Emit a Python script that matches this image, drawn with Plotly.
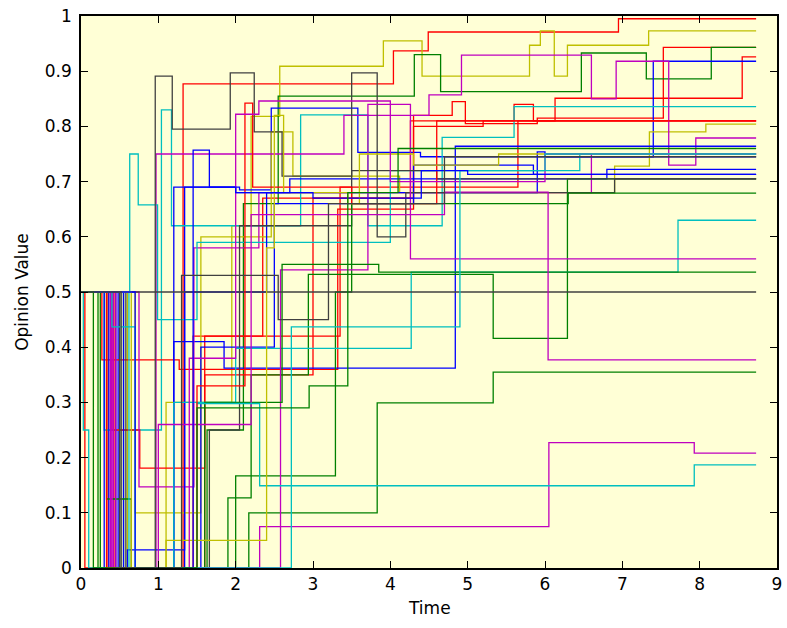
import plotly.graph_objects as go

# Opinion trajectories: each agent has switch times and the opinion held from that time on.
T_END = 8.73

a01_t = [0, 0.05, 1.32, 4.04, 4.49, 6.95]
a01_v = [0.5, 0.0, 0.877, 0.937, 0.971, 0.995]
a02_t = [0, 0.60, 1.10, 1.95, 2.20, 2.57, 3.91, 4.41, 5.80, 5.94, 6.12, 6.29, 7.34]
a02_v = [0.5, 0.0, 0.30, 0.62, 0.818, 0.909, 0.955, 0.891, 0.947, 0.973, 0.891, 0.947, 0.973]
a03_t = [0, 0.35, 1.45, 2.35, 4.30, 4.80, 4.97, 5.90, 7.53]
a03_v = [0.5, 0.0, 0.42, 0.67, 0.82, 0.845, 0.805, 0.815, 0.943]
a04_t = [0, 0.55, 1.63, 2.10, 2.55, 4.31, 4.65, 6.47, 7.31, 8.15]
a04_v = [0.5, 0.0, 0.25, 0.66, 0.855, 0.93, 0.863, 0.933, 0.886, 0.943]
a05_t = [0, 0.44, 1.60, 3.00, 4.26, 5.60, 5.85, 6.13, 8.55]
a05_v = [0.5, 0.0, 0.35, 0.67, 0.81, 0.84, 0.81, 0.851, 0.926]
a06_t = [0, 0.48, 1.34, 2.05, 2.46, 3.58, 4.39, 7.40]
a06_v = [0.5, 0.0, 0.69, 0.685, 0.833, 0.753, 0.745, 0.918]
a07_t = [0, 0.30, 1.04, 1.17, 2.84, 3.71, 4.67, 5.60]
a07_v = [0.5, 0.25, 0.83, 0.62, 0.821, 0.62, 0.78, 0.836]
a08_t = [0, 0.40, 0.76, 1.60, 3.35, 5.65]
a08_v = [0.5, 0.25, 0.181, 0.42, 0.69, 0.81]
a09_t = [0, 0.27, 1.27, 3.32, 4.30, 5.20]
a09_v = [0.5, 0.377, 0.36, 0.65, 0.80, 0.81]
a10_t = [0, 0.70, 1.55, 2.46, 2.74, 4.12, 6.90, 7.35, 8.08]
a10_v = [0.5, 0.1, 0.60, 0.79, 0.71, 0.68, 0.728, 0.79, 0.804]
a11_t = [0, 0.42, 0.97, 3.40, 4.50, 4.92, 6.60, 6.92, 7.60, 7.95]
a11_v = [0.5, 0.0, 0.75, 0.82, 0.857, 0.929, 0.85, 0.918, 0.73, 0.779]
a12_t = [0, 0.36, 1.20, 1.85, 4.84]
a12_v = [0.5, 0.0, 0.41, 0.362, 0.764]
a13_t = [0, 0.75, 1.46, 2.30, 4.20, 6.60]
a13_v = [0.5, 0.147, 0.58, 0.68, 0.68, 0.75]
a14_t = [0, 0.63, 0.74, 0.99, 1.50, 4.00, 6.45]
a14_v = [0.5, 0.75, 0.658, 0.45, 0.59, 0.72, 0.75]
a15_t = [0, 0.30, 0.60, 1.34, 2.40, 5.90, 6.00]
a15_v = [0.5, 0.0, 0.033, 0.50, 0.68, 0.754, 0.745]
a16_t = [0, 0.45, 1.20, 2.00, 2.70, 6.80]
a16_v = [0.5, 0.0, 0.69, 0.68, 0.705, 0.722]
a17_t = [0, 0.55, 1.55, 2.50, 4.30, 5.85]
a17_v = [0.5, 0.0, 0.40, 0.66, 0.73, 0.713]
a18_t = [0, 0.22, 1.90, 2.20, 2.94, 5.33, 6.29]
a18_v = [0.5, 0.0, 0.127, 0.35, 0.532, 0.416, 0.705]
a19_t = [0, 0.25, 2.17, 3.83, 5.33]
a19_v = [0.5, 0.0, 0.1, 0.299, 0.355]
a20_t = [0, 0.58, 1.66, 2.05, 3.50, 3.83, 4.20, 6.90]
a20_v = [0.5, 0.0, 0.25, 0.62, 0.897, 0.60, 0.68, 0.705]
a21_t = [0, 0.33, 0.65, 2.00, 3.29, 3.50, 6.30]
a21_v = [0.5, 0.125, 0.0, 0.167, 0.50, 0.66, 0.679]
a22_t = [0, 0.03, 0.10, 1.20, 2.00, 4.27, 7.72]
a22_v = [0.5, 0.25, 0.0, 0.30, 0.398, 0.536, 0.630]
a23_t = [0, 0.40, 2.58, 3.71, 4.26]
a23_v = [0.5, 0.0, 0.54, 0.84, 0.56]
a24_t = [0, 0.50, 1.60, 2.60, 3.85]
a24_v = [0.5, 0.0, 0.30, 0.55, 0.536]
a25_t = [0]
a25_v = [0.5]
a26_t = [0, 0.38, 1.00, 2.20, 4.70, 6.04]
a26_v = [0.5, 0.0, 0.26, 0.64, 0.681, 0.377]
a27_t = [0, 0.40, 2.31, 6.05, 7.93]
a27_v = [0.5, 0.0, 0.075, 0.227, 0.208]
a28_t = [0, 0.62, 1.50, 2.31, 7.93]
a28_v = [0.5, 0.0, 0.298, 0.149, 0.187]
a29_t = [0, 0.50, 0.96, 1.18, 1.93, 2.24, 2.60, 3.50, 4.60]
a29_v = [0.5, 0.0, 0.891, 0.795, 0.897, 0.79, 0.71, 0.72, 0.705]
a30_t = [0, 0.33, 1.50, 2.12, 2.22, 3.50, 4.60]
a30_v = [0.5, 0.0, 0.33, 0.842, 0.69, 0.66, 0.81]
a31_t = [0, 0.65, 1.10, 2.40, 2.50, 2.62, 3.45, 3.60, 4.30, 5.40]
a31_v = [0.5, 0.0, 0.05, 0.58, 0.82, 0.68, 0.66, 0.75, 0.73, 0.75]
a32_t = [0, 0.45, 1.40, 2.00, 2.30, 4.00, 6.00]
a32_v = [0.5, 0.0, 0.38, 0.822, 0.846, 0.70, 0.75]
a33_t = [0, 0.40, 0.70, 2.72, 4.90, 6.00]
a33_v = [0.5, 0.437, 0.0, 0.437, 0.72, 0.75]
a34_t = [0, 0.70, 1.45, 1.66, 2.00, 3.00, 4.40, 5.00]
a34_v = [0.5, 0.0, 0.757, 0.69, 0.68, 0.67, 0.72, 0.713]
a35_t = [0, 0.16, 1.50, 2.95, 3.45, 4.10]
a35_v = [0.5, 0.0, 0.29, 0.33, 0.68, 0.76]
a36_t = [0, 0.52, 1.30, 2.55, 3.20, 4.70]
a36_v = [0.5, 0.0, 0.53, 0.45, 0.66, 0.745]

# MATLAB-style line colour order
BLUE, GREEN, RED = "#0000FF", "#008000", "#FF0000"
CYAN, MAGENTA, OLIVE, DARK = "#00BFBF", "#BF00BF", "#BFBF00", "#404040"

agents = [
    (a01_t, a01_v, RED), (a02_t, a02_v, OLIVE), (a03_t, a03_v, RED),
    (a04_t, a04_v, GREEN), (a05_t, a05_v, RED), (a06_t, a06_v, BLUE),
    (a07_t, a07_v, CYAN), (a08_t, a08_v, RED), (a09_t, a09_v, RED),
    (a10_t, a10_v, OLIVE), (a11_t, a11_v, MAGENTA), (a12_t, a12_v, BLUE),
    (a13_t, a13_v, MAGENTA), (a14_t, a14_v, CYAN), (a15_t, a15_v, BLUE),
    (a16_t, a16_v, BLUE), (a17_t, a17_v, BLUE), (a18_t, a18_v, GREEN),
    (a19_t, a19_v, GREEN), (a20_t, a20_v, DARK), (a21_t, a21_v, GREEN),
    (a22_t, a22_v, CYAN), (a23_t, a23_v, MAGENTA), (a24_t, a24_v, GREEN),
    (a25_t, a25_v, DARK), (a26_t, a26_v, MAGENTA), (a27_t, a27_v, MAGENTA),
    (a28_t, a28_v, CYAN), (a29_t, a29_v, DARK), (a30_t, a30_v, RED),
    (a31_t, a31_v, OLIVE), (a32_t, a32_v, MAGENTA), (a33_t, a33_v, CYAN),
    (a34_t, a34_v, BLUE), (a35_t, a35_v, GREEN), (a36_t, a36_v, DARK),
]

fig = go.Figure()
for ts, vs, col in agents:
    fig.add_trace(go.Scatter(
        x=list(ts) + [T_END], y=list(vs) + [vs[-1]],
        mode="lines", line=dict(color=col, width=1.3, shape="hv"),
        showlegend=False, hoverinfo="skip",
    ))

FONT = dict(family="DejaVu Sans", size=17, color="#000000")
axis_common = dict(
    showgrid=False, zeroline=False, showline=True, linecolor="#000000",
    linewidth=1.5, mirror="ticks", ticks="inside", ticklen=7, tickwidth=1.2,
    tickcolor="#000000", tickfont=FONT,
)
fig.update_xaxes(range=[0, 9], tickvals=list(range(10)), **axis_common)
fig.update_yaxes(range=[0, 1], tickvals=[i / 10 for i in range(11)],
                 ticktext=["0"] + [f"0.{i}" for i in range(1, 10)] + ["1"],
                 ticklabelstandoff=4, **axis_common)

fig.update_layout(
    width=787, height=628,
    margin=dict(l=81, r=5, t=16, b=60),
    paper_bgcolor="#FFFFFF", plot_bgcolor="#FFFFD6",
    font=FONT,
    annotations=[
        dict(text="Time", xref="paper", yref="paper", x=0.5, y=-0.072,
             xanchor="center", yanchor="middle", showarrow=False, font=FONT),
        dict(text="Opinion Value", xref="paper", yref="paper", x=-0.085, y=0.5,
             xanchor="center", yanchor="middle", textangle=-90, showarrow=False,
             font=FONT),
    ],
)

fig.write_html("out.html")
